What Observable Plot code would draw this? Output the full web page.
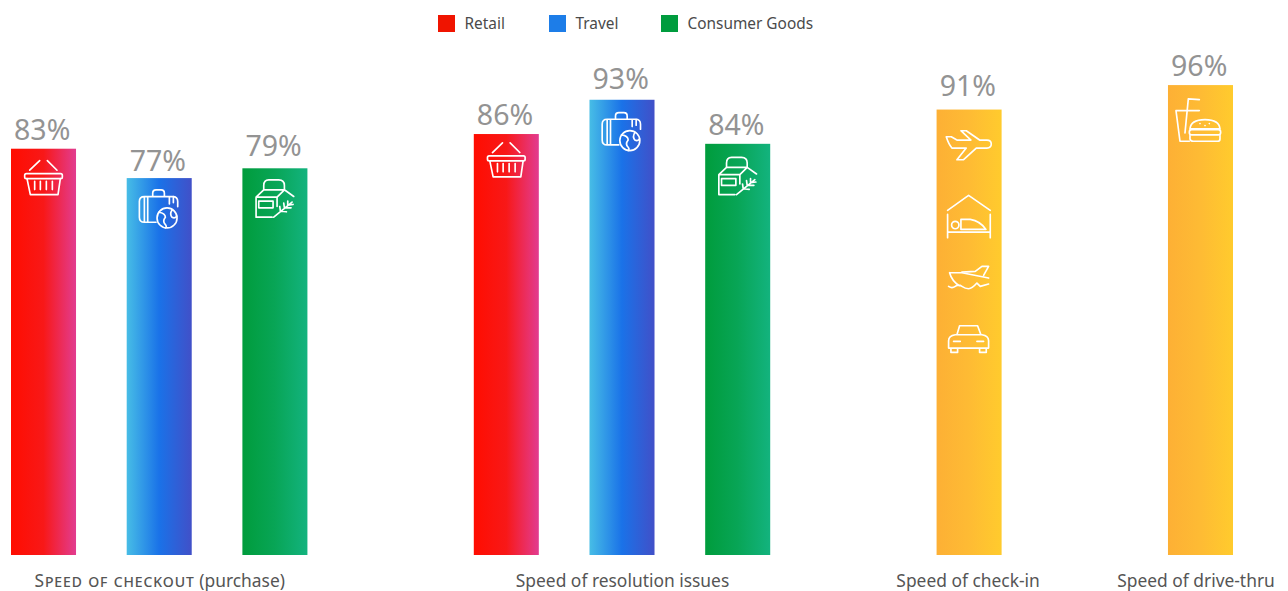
<!DOCTYPE html>
<html lang="en">
<head>
<meta charset="utf-8">
<title>Speed of experience by industry</title>
<script src="https://cdn.jsdelivr.net/npm/d3@7"></script>
<script src="https://cdn.jsdelivr.net/npm/@observablehq/plot@0.6"></script>
<style>
  html, body { margin: 0; background: #fff; }
  body { width: 1288px; overflow: hidden; font-family: "Noto Sans", sans-serif; }
  #legend { position: relative; height: 47px; }
  .key { position: absolute; top: 15px; display: flex; align-items: center; height: 17px;
         font-size: 15.4px; color: #4a4a4a; white-space: nowrap; }
  .key i { display: block; width: 17px; height: 17px; margin-right: 10px; }
  .key span { position: relative; left: -0.5px; }
  svg { display: block; }
</style>
</head>
<body>
<div id="legend"></div>
<script>
// Chart content
const slots = ["checkout-retail", "checkout-travel", "checkout-goods", "gap-a",
               "resolution-retail", "resolution-travel", "resolution-goods", "gap-b",
               "checkin", "gap-c", "drivethru"];
const barSlots = ["checkout-retail", "checkout-travel", "checkout-goods",
                  "resolution-retail", "resolution-travel", "resolution-goods",
                  "checkin", "drivethru"];
const values = [83, 77, 79, 86, 93, 84, 91, 96];
const sectors = ["retail", "travel", "goods", "retail", "travel", "goods", "hospitality", "hospitality"];
const axisSlots = ["checkout-travel", "resolution-travel", "checkin", "drivethru"];
const axisLabels = ["Speed of checkout (purchase)", "Speed of resolution issues", "Speed of check-in", "Speed of drive-thru"];
const legendNames = ["Retail", "Travel", "Consumer Goods"];

// Styling
const legendColors = ["#f01400", "#1d7de8", "#009c3e"];
const legendLefts = [438, 549, 661];
const labelLifts = [18, 17, 22, 19, 20, 18, 23, 19];
const axisNudges = [0, 0, -1.5, -5];
const gradients = {
  retail: ["#ff0d00", "#f81818", "#e23c90"],
  travel: ["#47bde6", "#1a72e8", "#4150c8"],
  goods: ["#009c3c", "#08a556", "#13b37e"],
  hospitality: ["#fdb035", "#febb34", "#ffcb2d"]
};

// Line icons, each drawn in its own square viewBox
const glyphs = {
  basket: [130, 228, `<path d="M120 178L90 207M143 178L172 207M82 232L92 280H175L182 232M105 240V265M122 240V265M140 240V265M158 240V265"/><rect x="75" y="217" width="113" height="15" rx="5"/>`],
  suitcase: [478, 318, `<path d="M470 365H435Q420 365 420 350V303Q420 288 435 288H520Q535 288 535 303V318M435 288V365M445 288V365M460 288V278Q460 268 470 268H485Q495 268 495 278V288M510 288V310M522 288V306M478 335Q498 338 498 350Q488 362 498 372Q503 378 498 382M518 328Q510 340 518 350Q526 355 532 347"/><circle cx="503" cy="352" r="30"/>`],
  carton: [822, 295, `<path d="M790 268V255Q790 238 805 238H835Q852 238 852 255V268M790 268H852M790 268L767 290V350H815M767 290H830V318M830 290L852 268L880 288M820 350L875 305M840 332L838 318M840 332L858 334M852 322L850 308M852 322L872 322M862 314L862 302M862 314L878 312"/><rect x="775" y="302" width="43" height="20"/>`],
  plane: [145, 283, `<path d="M78 258H93L110 268H152L122 240H138L178 268H200Q213 268 213 280Q213 292 200 292H168L130 327H110L138 292H95Q85 280 78 258Z"/>`],
  bed: [145, 495, `<path d="M82 478L145 433L210 478M82 490V560M210 490V560M82 543H210M122 535V505H150Q180 510 197 535Z"/><circle cx="105" cy="522" r="11"/>`],
  boat: [145, 680, `<path d="M88 664Q95 690 118 703M88 664H125L205 680M125 662L165 660L185 645H205L190 672M85 705Q95 712 105 705T125 705T145 712T170 695L180 705L205 698"/>`],
  car: [145, 862, `<path d="M110 852L118 825H172L182 852M85 870Q85 855 105 852H185Q205 855 205 870V892H85ZM92 892V905H112V892M178 892V905H198V892M100 872H120M170 872H190"/>`],
  meal: [840, 213, `<path d="M768 183H838M768 183L780 275H808M795 250L805 148L838 150M810 238Q812 210 855 210Q898 210 900 238ZM810 258V268Q812 275 820 275H892Q900 275 900 268V258M840 222h.1M855 228h.1M868 222h.1"/><rect x="808" y="240" width="94" height="16" rx="7"/>`]
};

// Which icon sits in which bar, and how far below the bar's top
const iconSlots = ["checkout-retail", "checkout-travel", "checkout-goods",
                   "resolution-retail", "resolution-travel", "resolution-goods",
                   "checkin", "checkin", "checkin", "checkin", "drivethru"];
const iconNames = ["basket", "suitcase", "carton", "basket", "suitcase", "carton",
                   "plane", "bed", "boat", "car", "meal"];
const iconDrops = [28, 28, 30, 25, 29, 32, 35, 106, 168, 228, 35];

const glyphUri = name => {
  const [cx, cy, body] = glyphs[name];
  const svg = `<svg xmlns="http://www.w3.org/2000/svg" viewBox="${cx - 90} ${cy - 90} 180 180" fill="none" stroke="#fff" stroke-width="5" stroke-linecap="round" stroke-linejoin="round">${body}</svg>`;
  return "data:image/svg+xml," + encodeURIComponent(svg);
};

const bars = barSlots.map((slot, i) => ({slot, value: values[i], sector: sectors[i], lift: labelLifts[i]}));
const valueOf = new Map(barSlots.map((s, i) => [s, values[i]]));
const icons = iconSlots.map((slot, i) => ({slot, value: valueOf.get(slot), src: glyphUri(iconNames[i]), drop: iconDrops[i]}));
const axisRows = axisSlots.map((slot, i) => ({slot, label: axisLabels[i], nudge: axisNudges[i]}));

// Legend row above the plot
const legend = d3.select("#legend");
legendNames.forEach((name, i) => {
  const key = legend.append("div").attr("class", "key").style("left", legendLefts[i] + "px");
  key.append("i").style("background", legendColors[i]);
  key.append("span").text(name);
});

// Horizontal gradient definitions used as bar fills
const gradientDefs = () => {
  const defs = d3.create("svg:defs");
  for (const [key, stops] of Object.entries(gradients)) {
    const g = defs.append("linearGradient").attr("id", "fill-" + key);
    stops.forEach((c, i) => g.append("stop").attr("offset", i / 2).attr("stop-color", c));
  }
  return defs.node();
};

// Sets the part of a label before its parenthesis in small capitals
const smallCapsLead = (index, scales, values, dims, context, next) => {
  const g = next(index, scales, values, dims, context);
  d3.select(g).selectAll("text").each(function () {
    const t = this.textContent, at = t.indexOf(" (");
    if (at < 0) return;
    const text = d3.select(this).text(null);
    text.append("tspan").style("font-variant", "small-caps").style("letter-spacing", "0.9px").text(t.slice(0, at));
    text.append("tspan").text(t.slice(at));
  });
  return g;
};

const iconMarks = d3.groups(icons, d => d.drop).map(([drop, rows]) =>
  Plot.image(rows, {x: "slot", y: "value", src: "src", width: 60, height: 60, dx: -1, dy: drop}));

const labelMarks = d3.groups(bars, d => d.lift).map(([lift, rows]) =>
  Plot.text(rows, {x: "slot", y: "value", text: d => d.value + "%", dy: -lift, dx: -1.8,
                   fontSize: 28.5, fill: "#939393"}));

const axisMarks = d3.groups(axisRows, d => d.nudge).map(([nudge, rows]) =>
  Plot.text(rows, {x: "slot", y: () => 0, text: "label", dx: nudge, dy: 26, fontSize: 17.4,
                   fill: "#555", render: smallCapsLead}));

const chart = Plot.plot({
  width: 1288,
  height: 544,
  marginTop: 18.5,
  marginBottom: 36,
  marginLeft: 11,
  marginRight: 55,
  x: {type: "band", domain: slots, paddingInner: 0.438, paddingOuter: 0, round: false, axis: null},
  y: {domain: [0, 100], axis: null},
  color: {type: "identity"},
  style: {background: "#fff", fontFamily: "'Noto Sans', sans-serif"},
  marks: [
    gradientDefs,
    Plot.barY(bars, {x: "slot", y: "value", fill: d => `url(#fill-${d.sector})`}),
    ...iconMarks,
    ...labelMarks,
    ...axisMarks
  ]
});
document.body.appendChild(chart);
</script>
</body>
</html>
